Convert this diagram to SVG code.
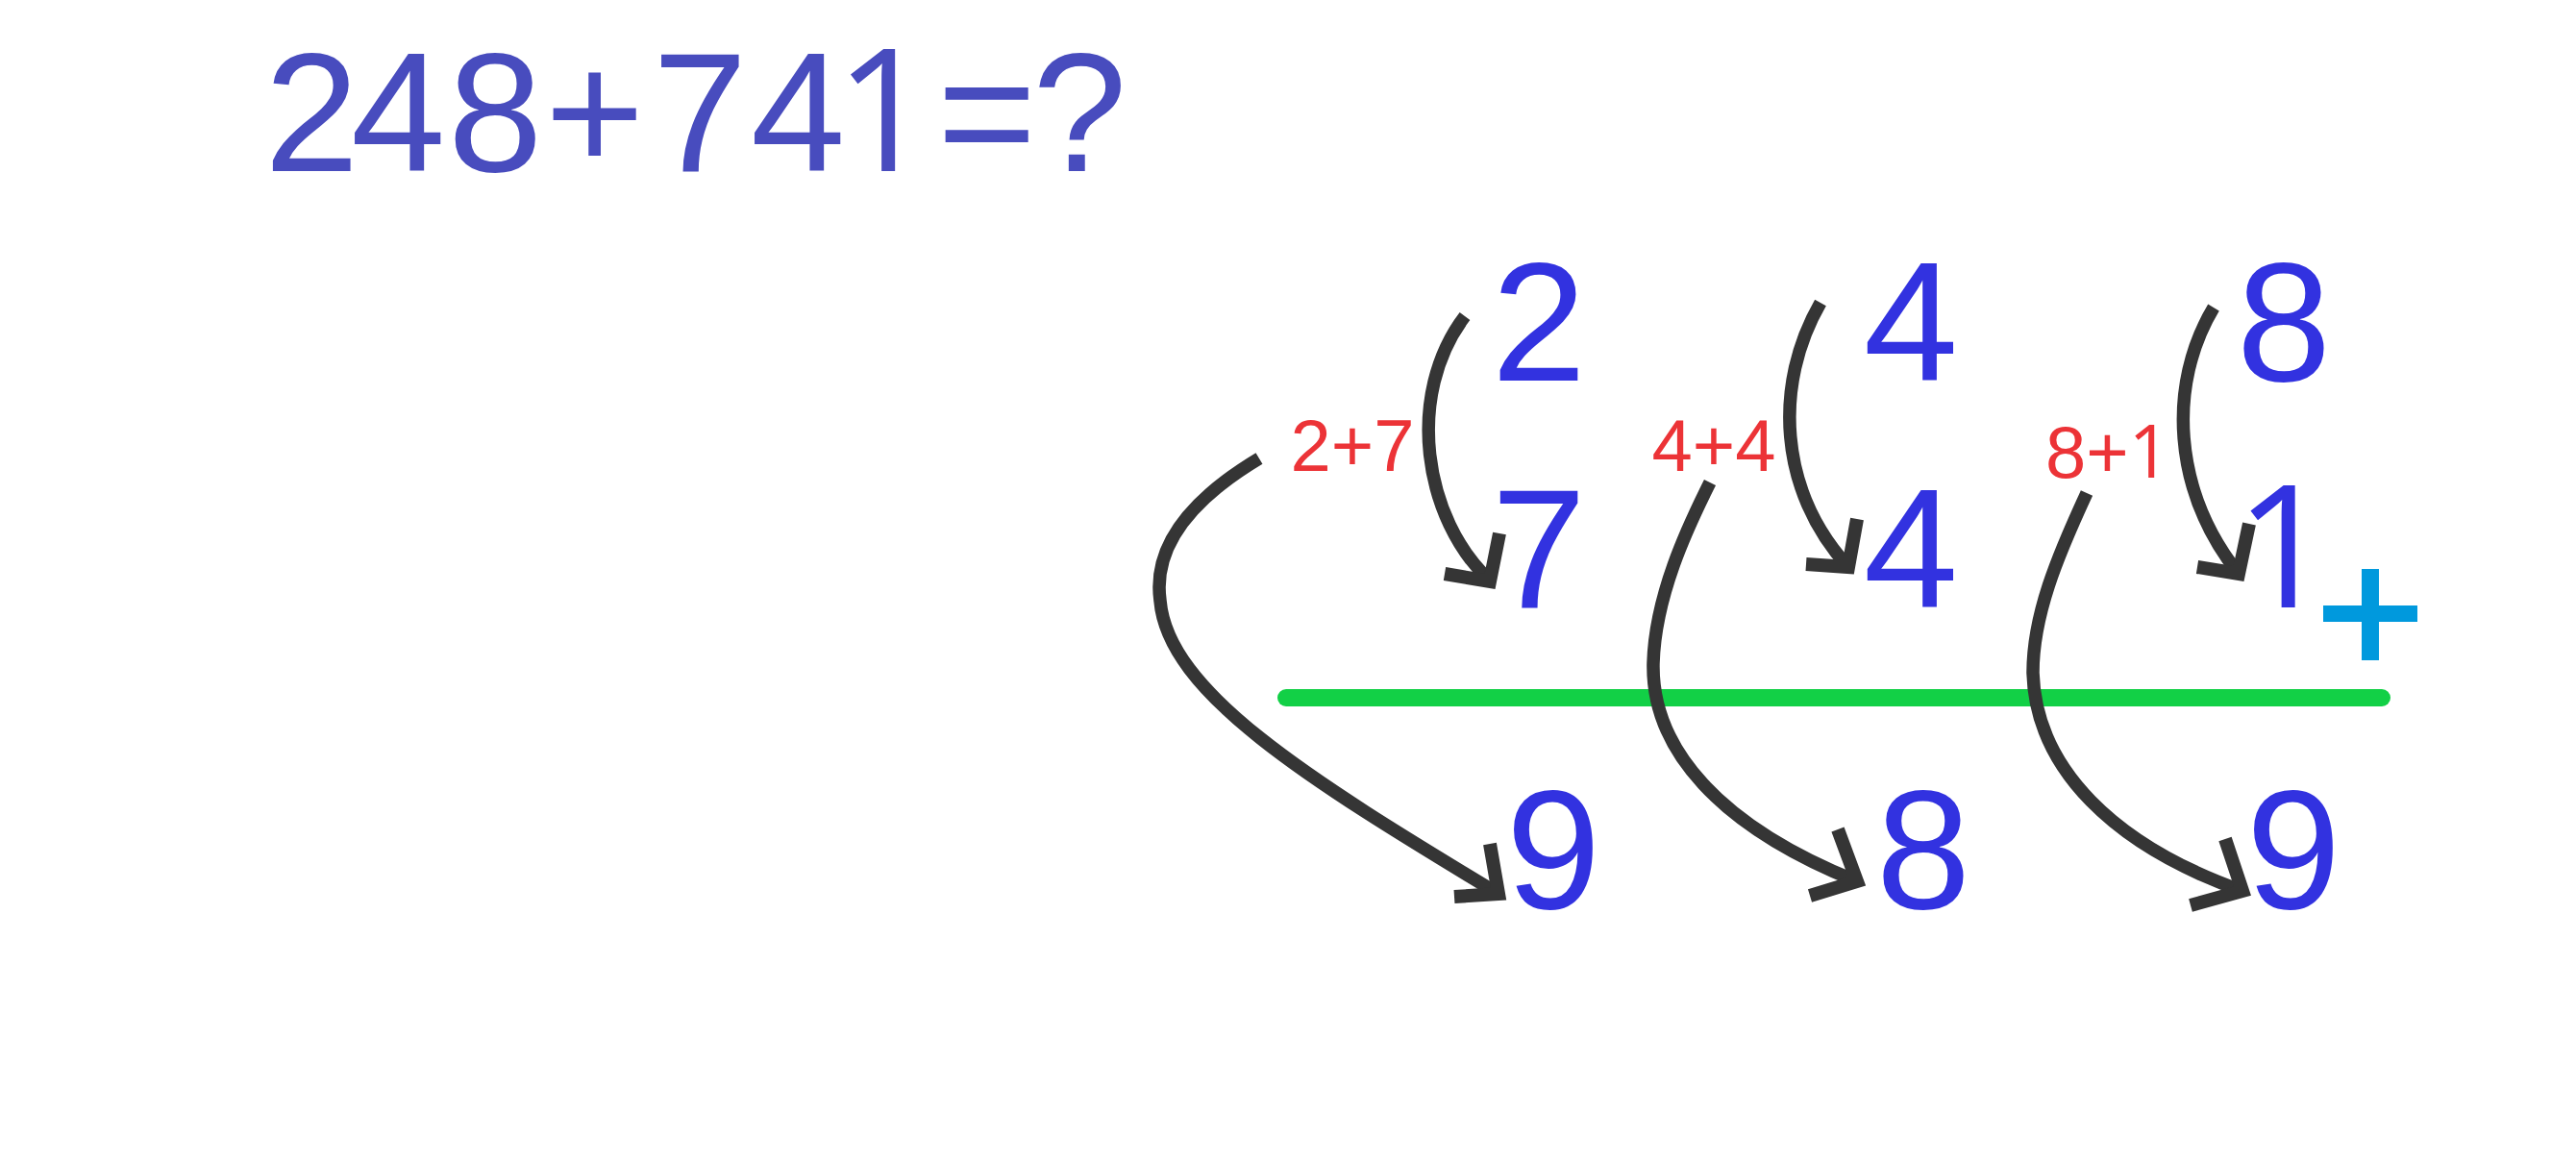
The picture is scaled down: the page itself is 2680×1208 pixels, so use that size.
<svg xmlns="http://www.w3.org/2000/svg" width="2680" height="1208" viewBox="0 0 2680 1208">
<style>
.title{font-family:"Liberation Sans",Arial,sans-serif;font-size:177px;fill:#484CBE}
.dig{font-family:"Liberation Sans",Arial,sans-serif;font-size:177px;fill:#3232E0;text-anchor:middle}
.lbl{font-family:"Liberation Sans",Arial,sans-serif;font-size:76px;fill:#EC3337;text-anchor:middle}
.one{font-family:"Open Sans","Noto Sans",sans-serif}
.c{fill:none;stroke:#353535;stroke-width:13.5}
.ah{fill:none;stroke:#353535;stroke-width:14;stroke-linejoin:miter;stroke-miterlimit:10}
</style>
<rect width="2680" height="1208" fill="#ffffff"/>
<g id="title"><text class="title" y="178"><tspan x="275">2</tspan><tspan x="365">4</tspan><tspan x="466">8</tspan><tspan x="567">+</tspan><tspan x="679">7</tspan><tspan x="781">4</tspan><tspan class="one" x="869">1</tspan><tspan x="975">=</tspan><tspan x="1074">?</tspan></text></g>
<g id="top-2"><text class="dig" x="1601" y="396">2</text></g>
<g id="top-4"><text class="dig" x="1988" y="396">4</text></g>
<g id="top-8"><text class="dig" x="2376" y="396">8</text></g>
<g id="mid-7"><text class="dig" x="1601" y="632">7</text></g>
<g id="mid-4"><text class="dig" x="1988" y="632">4</text></g>
<g id="mid-1"><text class="dig one" x="2376" y="632">1</text></g>
<g id="plus"><rect x="2417" y="630" width="98" height="17" fill="#0099DD"/><rect x="2457" y="592" width="18" height="95" fill="#0099DD"/></g>
<g id="rule"><line x1="1338" y1="726" x2="2478" y2="726" stroke="#12D046" stroke-width="18" stroke-linecap="round"/></g>
<g id="bot-9a"><text class="dig" x="1616" y="945">9</text></g>
<g id="bot-8"><text class="dig" x="2001" y="945">8</text></g>
<g id="bot-9b"><text class="dig" x="2386" y="945">9</text></g>
<g id="lbl-27"><text class="lbl" x="1407" y="490">2+7</text></g>
<g id="lbl-44"><text class="lbl" x="1783" y="490">4+4</text></g>
<g id="lbl-81"><text class="lbl" x="2193" y="497">8+<tspan class="one">1</tspan></text></g>
<g id="connectors">
<path class="c" d="M1524,329 C1462,410 1480,540 1551,605"/>
<path class="ah" d="M1503,597 L1550,605 L1560,555"/>
<path class="c" d="M1894,315 C1845,400 1850,510 1923,590"/>
<path class="ah" d="M1879,587 L1923,590 L1932,540"/>
<path class="c" d="M2303,320 C2255,400 2260,510 2329,597"/>
<path class="ah" d="M2286,590 L2329,597 L2340,545"/>
<path class="c" d="M1310,477 C1230,525 1200,575 1207,625 C1215,720 1360,810 1559,930"/>
<path class="ah" d="M1513,933 L1559,930 L1550,878"/>
<path class="c" d="M1779,502 C1755,550 1722,620 1720,690 C1718,780 1790,860 1932,917"/>
<path class="ah" d="M1883,932 L1932,917 L1912,863"/>
<path class="c" d="M2171,513 C2140,580 2115,640 2115,700 C2118,800 2200,880 2333,927"/>
<path class="ah" d="M2279,942 L2333,927 L2315,873"/>
</g>
</svg>
